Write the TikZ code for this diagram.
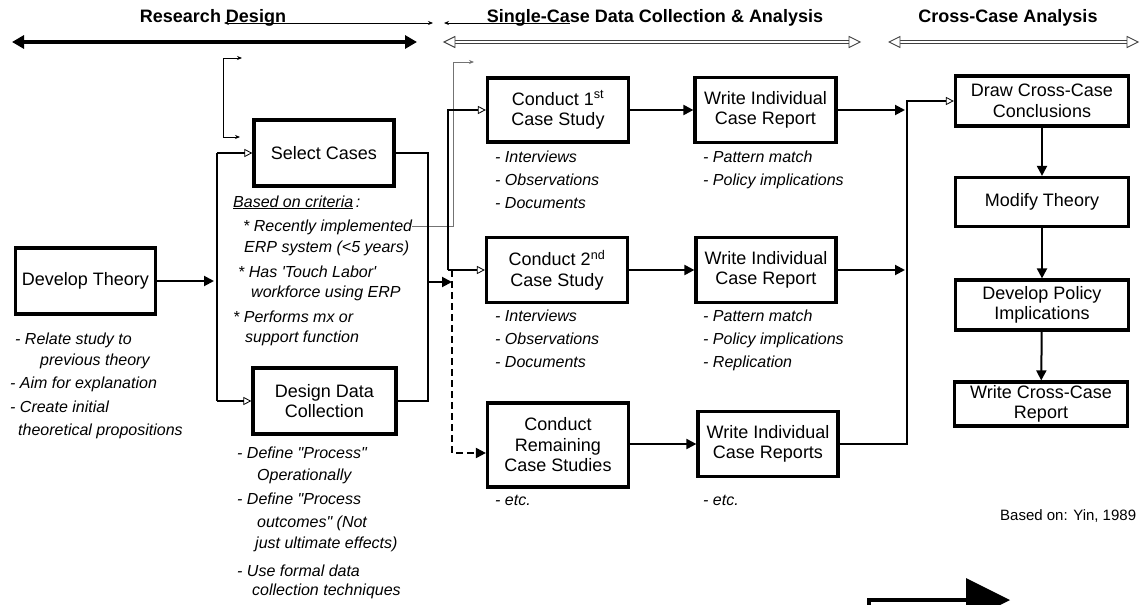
\documentclass[tikz,border=0pt]{standalone}
\usepackage{fontspec}
\setmainfont{Liberation Sans}
\usetikzlibrary{arrows.meta}
\newcommand\mynote[4]{\node[note] (#1) at (#2,#3) {#4};}
\begin{document}
\begin{tikzpicture}[x=1pt,y=-1pt,
 box/.style={draw, line width=3.2pt, align=center, inner sep=0pt, font=\fontsize{18}{20.5}\selectfont},
 note/.style={anchor=base west, inner sep=0pt, font=\fontsize{16}{18}\selectfont\itshape},
 head/.style={font=\fontsize{18}{20}\selectfont\bfseries, inner sep=0pt},
 conn/.style={line width=2pt, -{Triangle[length=10pt,width=10pt]}},
 oconn/.style={line width=1.6pt, -{Triangle[open,length=8pt,width=8pt,line width=0.8pt]}},
 plain/.style={line width=2pt},
 thin/.style={line width=0.8pt},
 hl/.style={line width=0.9pt, draw=black!75},
]
\useasboundingbox (0,0) rectangle (1144,605);
\clip (0,0) rectangle (1144,605);

% headers
\node[head] (hRD) at (213,18) {Research Design};
\node[head] (hSC) at (655,18) {Single-Case Data Collection \& Analysis};
\node[head] (hCC) at (1008,18) {Cross-Case Analysis};

\coordinate (t1a) at (224,23); \coordinate (t1b) at (433,23);
\draw[thin, {Stealth[length=5pt,width=4pt]}-{Stealth[length=5pt,width=4pt]}] (t1a) -- (t1b);
\coordinate (t2a) at (444,23); \coordinate (t2b) at (570,23);
\draw[thin, {Stealth[length=5pt,width=4pt]}-] (t2a) -- (t2b);

\coordinate (h1a) at (12,42); \coordinate (h1b) at (417,42);
\draw[line width=3.5pt, {Triangle[length=12pt,width=13pt]}-{Triangle[length=12pt,width=13pt]}] (h1a) -- (h1b);

\draw[hl] (454,40.3) -- (850,40.3) (454,43.7) -- (850,43.7);
\draw[hl, fill=white] (444,42) -- (455,36.5) -- (455,47.5) -- cycle;
\draw[hl, fill=white] (860,42) -- (849,36.5) -- (849,47.5) -- cycle;
\draw[hl] (899,40.3) -- (1128,40.3) (899,43.7) -- (1128,43.7);
\draw[hl, fill=white] (889,42) -- (900,36.5) -- (900,47.5) -- cycle;
\draw[hl, fill=white] (1138,42) -- (1127,36.5) -- (1127,47.5) -- cycle;

% boxes
\node[box, minimum width=140, minimum height=66] (DT) at (85.5,281) {Develop Theory};
\node[box, minimum width=140, minimum height=66] (SC) at (324,153) {Select Cases};
\node[box, minimum width=143, minimum height=66] (DD) at (324.5,401) {Design Data\\Collection};
\node[box, minimum width=141, minimum height=64] (C1) at (558,110) {Conduct 1\textsuperscript{st}\\Case Study};
\node[box, minimum width=141, minimum height=65] (W1) at (765.5,110) {Write Individual\\Case Report};
\node[box, minimum width=141, minimum height=65] (C2) at (557,270) {Conduct 2\textsuperscript{nd}\\Case Study};
\node[box, minimum width=140, minimum height=65] (W2) at (766,270) {Write Individual\\Case Report};
\node[box, minimum width=141, minimum height=84] (C3) at (558,445) {Conduct\\Remaining\\Case Studies};
\node[box, minimum width=140, minimum height=65] (W3) at (768,444) {Write Individual\\Case Reports};
\node[box, minimum width=173, minimum height=50] (D1) at (1042,101) {Draw Cross-Case\\Conclusions};
\node[box, minimum width=173, minimum height=49] (MT) at (1042,202) {Modify Theory};
\node[box, minimum width=173, minimum height=50] (DP) at (1042,305) {Develop Policy\\Implications};
\node[box, minimum width=173, minimum height=44] (WC) at (1041,404) {Write Cross-Case\\Report};

% notes
\mynote{n1}{15}{344}{- Relate study to}
\mynote{n2}{40}{365}{previous theory}
\mynote{n3}{10}{388}{- Aim for explanation}
\mynote{n4}{10}{412}{- Create initial}
\mynote{n5}{18}{435}{theoretical propositions}

\mynote{s1}{233}{207}{\underline{Based on criteria}\,:}
\mynote{rec}{243}{231}{* Recently implemented}
\mynote{s3}{244}{252}{ERP system (<5 years)}
\mynote{s4}{238}{277}{* Has \textquotesingle Touch Labor\textquotesingle}
\mynote{s5}{251}{297}{workforce using ERP}
\mynote{s6}{233}{322}{* Performs mx or}
\mynote{s7}{245}{342}{support function}

\mynote{d1}{237}{458}{- Define \textquotedbl Process\textquotedbl}
\mynote{d2}{257}{480}{Operationally}
\mynote{d3}{237}{504}{- Define \textquotedbl Process}
\mynote{d4}{257}{527}{outcomes\textquotedbl{} (Not}
\mynote{d5}{255}{548}{just ultimate effects)}
\mynote{d6}{237}{576}{- Use formal data}
\mynote{d7}{252}{595}{collection techniques}

\mynote{a1}{495}{162}{- Interviews}
\mynote{a2}{495}{185}{- Observations}
\mynote{a3}{495}{208}{- Documents}
\mynote{b1}{703}{162}{- Pattern match}
\mynote{b2}{703}{185}{- Policy implications}

\mynote{a4}{495}{321}{- Interviews}
\mynote{a5}{495}{344}{- Observations}
\mynote{a6}{495}{367}{- Documents}
\mynote{b4}{703}{321}{- Pattern match}
\mynote{b5}{703}{344}{- Policy implications}
\mynote{b6}{703}{367}{- Replication}

\mynote{a7}{495}{505}{- etc.}
\mynote{b7}{703}{505}{- etc.}

\node[anchor=base west, inner sep=0pt, font=\fontsize{15}{17}\selectfont] (yin) at (1000,520) {Based on: Yin, 1989};

% small elbows
\coordinate (e1) at (242,58); \coordinate (e2) at (240,137);
\draw[thin, {Stealth[length=5pt,width=4pt]}-{Stealth[length=5pt,width=4pt]}] (e1) -- (223,58) -- (223,137) -- (e2);
\coordinate (g1) at (453,62); \coordinate (g2) at (474,62);
\draw[thin, draw=black!55, -{Stealth[length=5pt,width=4pt]}] (rec.east) -| (g1) -- (g2);

% connectors
\coordinate (lbT) at (217,153); \coordinate (lbB) at (217,401);
\draw[conn] (DT.east) -- (214,281);
\draw[plain] (lbT) -- (lbB);
\draw[oconn] (lbT) -- (SC.west);
\draw[oconn] (lbB) -- (DD.west);

\coordinate (rb) at (428,282);
\draw[plain] (SC.east) -| (rb) |- (DD.east);
\coordinate (dx) at (452,282);
\draw[conn] (rb) -- (dx);

\coordinate (b2) at (448,270);
\draw[oconn] (b2) |- (C1.west);
\draw[oconn] (b2) -- (C2.west);
\coordinate (dtop) at (452,270);
\draw[line width=2pt, dash pattern=on 7pt off 4pt, -{Triangle[length=10pt,width=10pt]}] (dtop) |- ([yshift=-8pt]C3.west);

\draw[conn] (C1) -- (W1);
\draw[conn] (C2) -- (W2);
\draw[conn] (C3.east |- W3.west) -- (W3.west);

\coordinate (r1) at (905,110); \coordinate (r2) at (905,270); \coordinate (rbus) at (907,101);
\draw[conn] (W1.east) -- (r1);
\draw[conn] (W2.east) -- (r2);
\draw[oconn] (W3.east) -| (rbus) -- (D1.west);

\draw[conn] (D1) -- (MT);
\draw[conn] (MT) -- (DP);
\draw[conn] (DP) -- (WC);

% big arrow bottom
\draw[line width=4pt] (869,615) -- (869,600) -- (968,600);
\fill (966,578) -- (1010,600) -- (966,622) -- cycle;
\end{tikzpicture}
\end{document}
